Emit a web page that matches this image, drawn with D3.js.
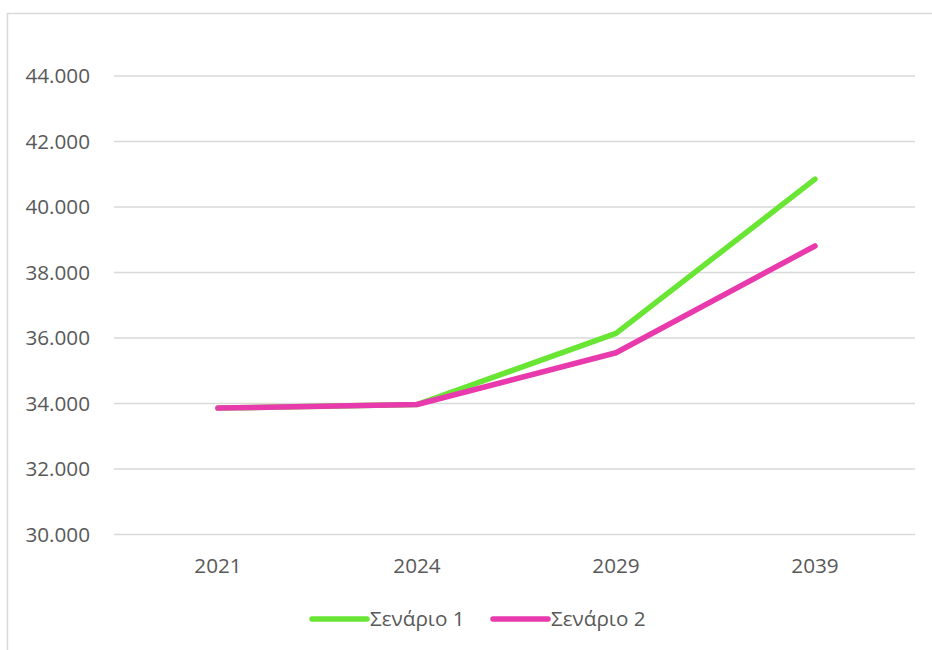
<!DOCTYPE html>
<html><head><meta charset="utf-8">
<script src="https://cdn.jsdelivr.net/npm/d3@7"></script>
<style>body{margin:0;background:#fff}svg{display:block}text{font-family:"Open Sans",sans-serif;fill:#595959}</style>
</head><body>
<svg id="c" width="932" height="650"></svg>
<script>
const years = ["2021","2024","2029","2039"];
const seriesNames = ["Σενάριο 1","Σενάριο 2"];
const scenario1 = [33860, 33970, 36140, 40850];
const scenario2 = [33860, 33970, 35550, 38810];
const yTicks = [30000,32000,34000,36000,38000,40000,42000,44000];
const colors = ["#69E634","#E83AAD"];

const svg = d3.select("#c");
svg.append("rect").attr("x",7.5).attr("y",13.5).attr("width",940).attr("height",660)
  .attr("fill","none").attr("stroke","#d9d9d9").attr("stroke-width",1.5);

const x = d3.scalePoint().domain(years).range([218,815]);
const y = d3.scaleLinear().domain([30000,44000]).range([534.5,76]);
const fmt = v => d3.format(",")(v).replace(/,/g,".");
const fs = 20.7;

const g = svg.append("g");
g.selectAll("line.grid").data(yTicks).join("line").attr("class","grid")
  .attr("x1",114).attr("x2",915).attr("y1",d=>y(d)).attr("y2",d=>y(d))
  .attr("stroke","#d9d9d9").attr("stroke-width",1.5);
g.selectAll("text.yl").data(yTicks).join("text").attr("class","yl")
  .attr("x",90).attr("y",d=>y(d)).attr("dy","0.35em").attr("text-anchor","end")
  .attr("font-size",fs).text(fmt);
g.selectAll("text.xl").data(years).join("text").attr("class","xl")
  .attr("x",d=>x(d)).attr("y",566).attr("dy","0.35em").attr("text-anchor","middle")
  .attr("font-size",fs).text(d=>d);

const line = d3.line().x((d,i)=>x(years[i])).y(d=>y(d));
[scenario1, scenario2].forEach((s,k)=>{
  g.append("path").datum(s).attr("d",line).attr("fill","none")
   .attr("stroke",colors[k]).attr("stroke-width",5.5)
   .attr("stroke-linecap","round").attr("stroke-linejoin","round");
});

const legX = [312, 493];
seriesNames.forEach((n,k)=>{
  svg.append("line").attr("x1",legX[k]).attr("x2",legX[k]+55).attr("y1",619).attr("y2",619)
    .attr("stroke",colors[k]).attr("stroke-width",5.5).attr("stroke-linecap","round");
  svg.append("text").attr("x",legX[k]+58).attr("y",619).attr("dy","0.35em")
    .attr("font-size",fs).text(n);
});
</script>
</body></html>
